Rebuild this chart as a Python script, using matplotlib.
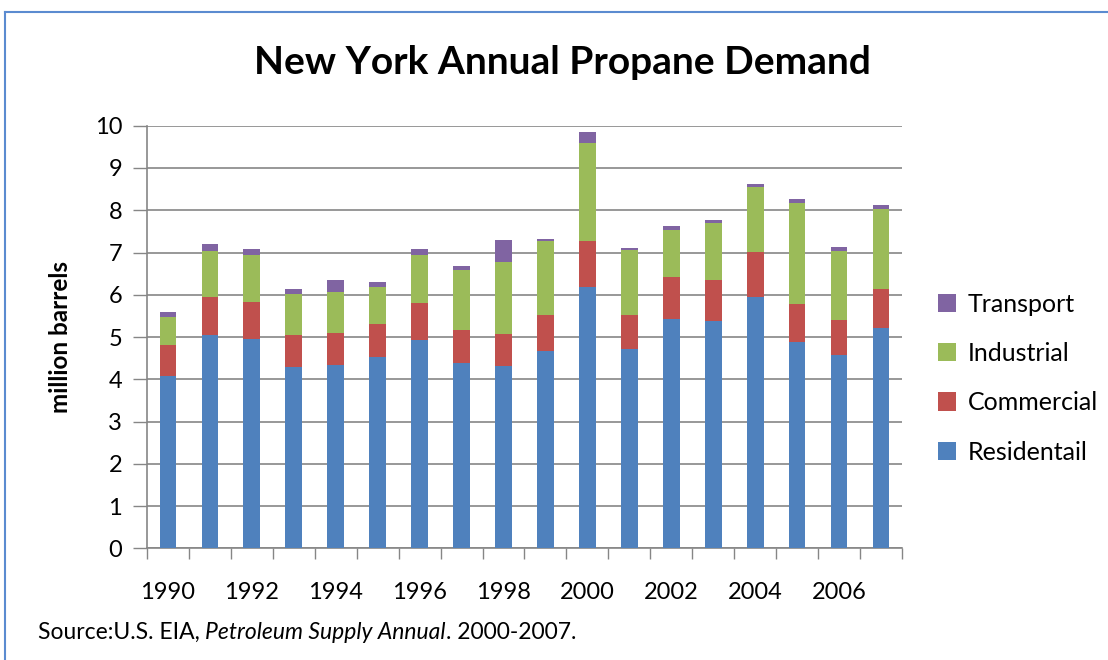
import matplotlib
matplotlib.use("Agg")
import matplotlib.pyplot as plt
from matplotlib.lines import Line2D
from matplotlib.patches import Patch
import numpy as np

plt.rcParams['font.family'] = ['Lato', 'DejaVu Sans']

years = list(range(1990, 2008))
residential = [4.08, 5.04, 4.95, 4.28, 4.34, 4.53, 4.92, 4.38, 4.32, 4.68,
               6.19, 4.71, 5.43, 5.38, 5.95, 4.89, 4.58, 5.22]
commercial = [0.72, 0.91, 0.88, 0.76, 0.76, 0.79, 0.88, 0.79, 0.75, 0.84,
              1.09, 0.81, 0.98, 0.97, 1.06, 0.89, 0.82, 0.91]
industrial = [0.67, 1.09, 1.10, 0.97, 0.97, 0.87, 1.15, 1.42, 1.70, 1.76,
              2.31, 1.55, 1.12, 1.36, 1.55, 2.39, 1.64, 1.91]
transport = [0.12, 0.15, 0.15, 0.12, 0.27, 0.12, 0.13, 0.09, 0.52, 0.04,
             0.25, 0.04, 0.09, 0.07, 0.06, 0.09, 0.09, 0.09]
series_names = ['Residentail', 'Commercial', 'Industrial', 'Transport']
colors = ['#4F81BD', '#C0504D', '#9BBB59', '#8064A2']
yticks = list(range(0, 11))
xtick_labels = [str(y) if y % 2 == 0 else '' for y in years]

fig = plt.figure(figsize=(11.08, 6.6), dpi=100)
ax = fig.add_axes([0.1327, 0.1692, 0.6813, 0.6403])

x = np.arange(len(years))
bottom = np.zeros(len(years))
handles = []
for name, vals, c in zip(series_names, [residential, commercial, industrial, transport], colors):
    ax.bar(x, vals, width=0.4, bottom=bottom, color=c, label=name, zorder=3)
    bottom += np.array(vals)
    handles.append(Patch(facecolor=c, label=name))

ax.set_xlim(-0.5, len(years) - 0.5)
ax.set_ylim(0, 10)
ax.set_yticks(yticks)
ax.set_yticklabels([str(v) for v in yticks])
ax.set_xticks(x)
ax.set_xticklabels(xtick_labels)
ax.set_xticks(np.arange(-0.5, len(years), 1.0), minor=True)
ax.tick_params(axis='x', which='major', length=0, pad=24, labelsize=17, colors='black')
ax.tick_params(axis='x', which='minor', length=8, width=1, color='#868686', direction='out')
ax.tick_params(axis='y', which='major', length=10, width=1, color='#868686', pad=8,
               labelsize=17, labelcolor='black')

ax.grid(axis='y', color='#868686', linewidth=1.2, zorder=0)
for s in ['top', 'right']:
    ax.spines[s].set_visible(False)
for s in ['left', 'bottom']:
    ax.spines[s].set_color('#868686')
    ax.spines[s].set_linewidth(1.2)

ax.set_ylabel('million barrels', fontsize=17.5, fontweight='bold', labelpad=16)

fig.text(0.508, 0.905, 'New York Annual Propane Demand', ha='center', va='center',
         fontsize=28, fontweight='bold')

leg = fig.legend(handles=handles[::-1], loc='center left', bbox_to_anchor=(0.826, 0.427),
                 frameon=False, fontsize=18, handlelength=0.75, handleheight=0.75,
                 handletextpad=0.45, labelspacing=1.05)

base_y = 0.032
t1 = fig.text(0.034, base_y, 'Source:U.S. EIA, ', fontsize=16.5, ha='left', va='baseline')
t2 = fig.text(0, 0, 'Petroleum Supply Annual', fontsize=16.5, style='italic')
t3 = fig.text(0, 0, '. 2000-2007.', fontsize=16.5)
fig.canvas.draw()
r = fig.canvas.get_renderer()
bb1 = t1.get_window_extent(r).transformed(fig.transFigure.inverted())
t2.set_position((bb1.x1, base_y))
t2.set_va('baseline')
fig.canvas.draw()
bb2 = t2.get_window_extent(r).transformed(fig.transFigure.inverted())
t3.set_position((bb2.x1, base_y))
t3.set_va('baseline')

frame_c = '#5B8BD0'
fig.add_artist(Line2D([5/1108, 1.0], [1 - 12/660, 1 - 12/660], color=frame_c, linewidth=1.5))
fig.add_artist(Line2D([5/1108, 5/1108], [0, 1 - 12/660], color=frame_c, linewidth=1.5))

fig.savefig('out.png', dpi=100)
